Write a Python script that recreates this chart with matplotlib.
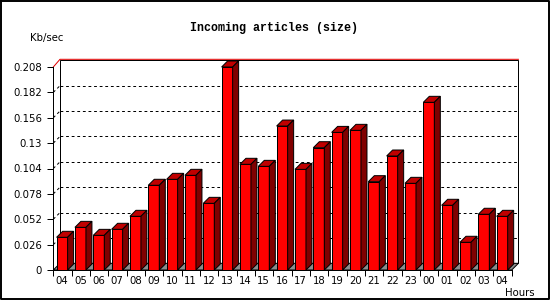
import matplotlib
matplotlib.use("Agg")
import matplotlib.pyplot as plt
from matplotlib.patches import Polygon, Rectangle
from matplotlib.lines import Line2D

# ---------------- data ----------------
hours = ['04', '05', '06', '07', '08', '09', '10', '11', '12', '13', '14', '15',
         '16', '17', '18', '19', '20', '21', '22', '23', '00', '01', '02', '03', '04']
values = [0.0335, 0.0437, 0.0355, 0.0417, 0.0550, 0.0868, 0.0929, 0.0970, 0.0683,
          0.2080, 0.1083, 0.1062, 0.1475, 0.1031, 0.1253, 0.1410, 0.1431, 0.0905,
          0.1168, 0.0888, 0.1718, 0.0663, 0.0284, 0.0571, 0.0550]
yticks = [0, 0.026, 0.052, 0.078, 0.104, 0.13, 0.156, 0.182, 0.208]
ytick_labels = ['0', '0.026', '0.052', '0.078', '0.104', '0.13', '0.156', '0.182', '0.208']
title = 'Incoming articles (size)'
ylabel = 'Kb/sec'
xlabel = 'Hours'

# ---------------- layout ----------------
W, H = 550, 300
fig = plt.figure(figsize=(W / 100, H / 100), dpi=100)
fig.patch.set_facecolor('white')

left_px, right_px = 53.3, 511.7
top_px, bottom_px = 67.0, 270.0
ax = fig.add_axes([left_px / W, (H - bottom_px) / H,
                   (right_px - left_px) / W, (bottom_px - top_px) / H])
n = len(values)
ymax = yticks[-1]
ax.set_xlim(0, n)
ax.set_ylim(0, ymax)
ax.set_facecolor('none')

px_x = n / (right_px - left_px)          # data units per px (x)
px_y = ymax / (bottom_px - top_px)       # data units per px (y)

LW = 0.72
# back plane depth
dxp, dyp = 6.7 * px_x, 6.7 * px_y
# bar depth
dxb, dyb = 6.0 * px_x, 6.0 * px_y

# back plane
ax.add_patch(Rectangle((dxp, dyp), n, ymax, facecolor='white', edgecolor='black',
                       lw=LW, zorder=0.5, clip_on=False))
# floor
ax.add_patch(Polygon([(0, 0), (n, 0), (n + dxp, dyp), (dxp, dyp)], closed=True,
                     facecolor='#8c8c8c', edgecolor='black', lw=LW, zorder=0.7,
                     clip_on=False))
# gridlines on back plane
for t in yticks[1:-1]:
    ax.add_line(Line2D([dxp, n + dxp], [t + dyp, t + dyp], color='black', lw=LW,
                       linestyle=(0, (2.8, 2.8)), zorder=0.6, clip_on=False))
    ax.add_line(Line2D([0, dxp], [t, t + dyp], color='black', lw=LW,
                       linestyle=(0, (2.8, 2.8)), zorder=0.6, clip_on=False))
# top edges (red)
ax.add_line(Line2D([0, dxp, n + dxp], [ymax, ymax + dyp + 1.0 * px_y, ymax + dyp + 1.0 * px_y],
                   color='#e00000', lw=LW, zorder=0.65, clip_on=False))

# bars
bar_off = 0.18
bar_w = 0.6
lefts = [i + bar_off for i in range(n)]
ax.bar(lefts, values, width=bar_w, align='edge', color='#ff0000',
       edgecolor='black', linewidth=LW, zorder=2)
for l, v in zip(lefts, values):
    r = l + bar_w
    ax.add_patch(Polygon([(l, v), (r, v), (r + dxb, v + dyb), (l + dxb, v + dyb)],
                         closed=True, facecolor='#c00000', edgecolor='black',
                         lw=LW, zorder=2, clip_on=False))
    ax.add_patch(Polygon([(r, 0), (r + dxb, dyb), (r + dxb, v + dyb), (r, v)],
                         closed=True, facecolor='#800000', edgecolor='black',
                         lw=LW, zorder=2, clip_on=False))

# spines
for s in ['top', 'right']:
    ax.spines[s].set_visible(False)
for s in ['left', 'bottom']:
    ax.spines[s].set_linewidth(LW)
    ax.spines[s].set_zorder(3)

font = 'DejaVu Sans'
ax.set_yticks(yticks)
ax.set_yticklabels(ytick_labels, fontsize=7.3, family=font)
ax.tick_params(axis='y', length=4, width=LW, pad=4)

ax.set_xticks(range(n + 1))
ax.set_xticklabels([])
ax.tick_params(axis='x', which='major', length=4, width=LW)
ax.set_xticks([l + bar_w / 2 for l in lefts], minor=True)
ax.set_xticklabels(hours, minor=True, fontsize=7.3, family=font)
ax.tick_params(axis='x', which='minor', length=0, pad=4)

# texts
fig.text(273.7 / W, 1 - 27.5 / H, title, ha='center', va='center',
         fontsize=8.4, fontweight='bold', family='Liberation Mono')
fig.text(47 / W, 1 - 37.5 / H, ylabel, ha='center', va='center',
         fontsize=7.3, family=font)
fig.text(519.5 / W, 1 - 292.5 / H, xlabel, ha='center', va='center',
         fontsize=7.3, family=font)

# image border
fig.add_artist(Line2D([0.5 / W, 548.7 / W, 548.7 / W, 0.5 / W, 0.5 / W],
                      [1 - 0.5 / H, 1 - 0.5 / H, 1 - 298.5 / H, 1 - 298.5 / H, 1 - 0.5 / H],
                      transform=fig.transFigure, color='black', lw=1.4))

fig.savefig('out.png', dpi=100)
